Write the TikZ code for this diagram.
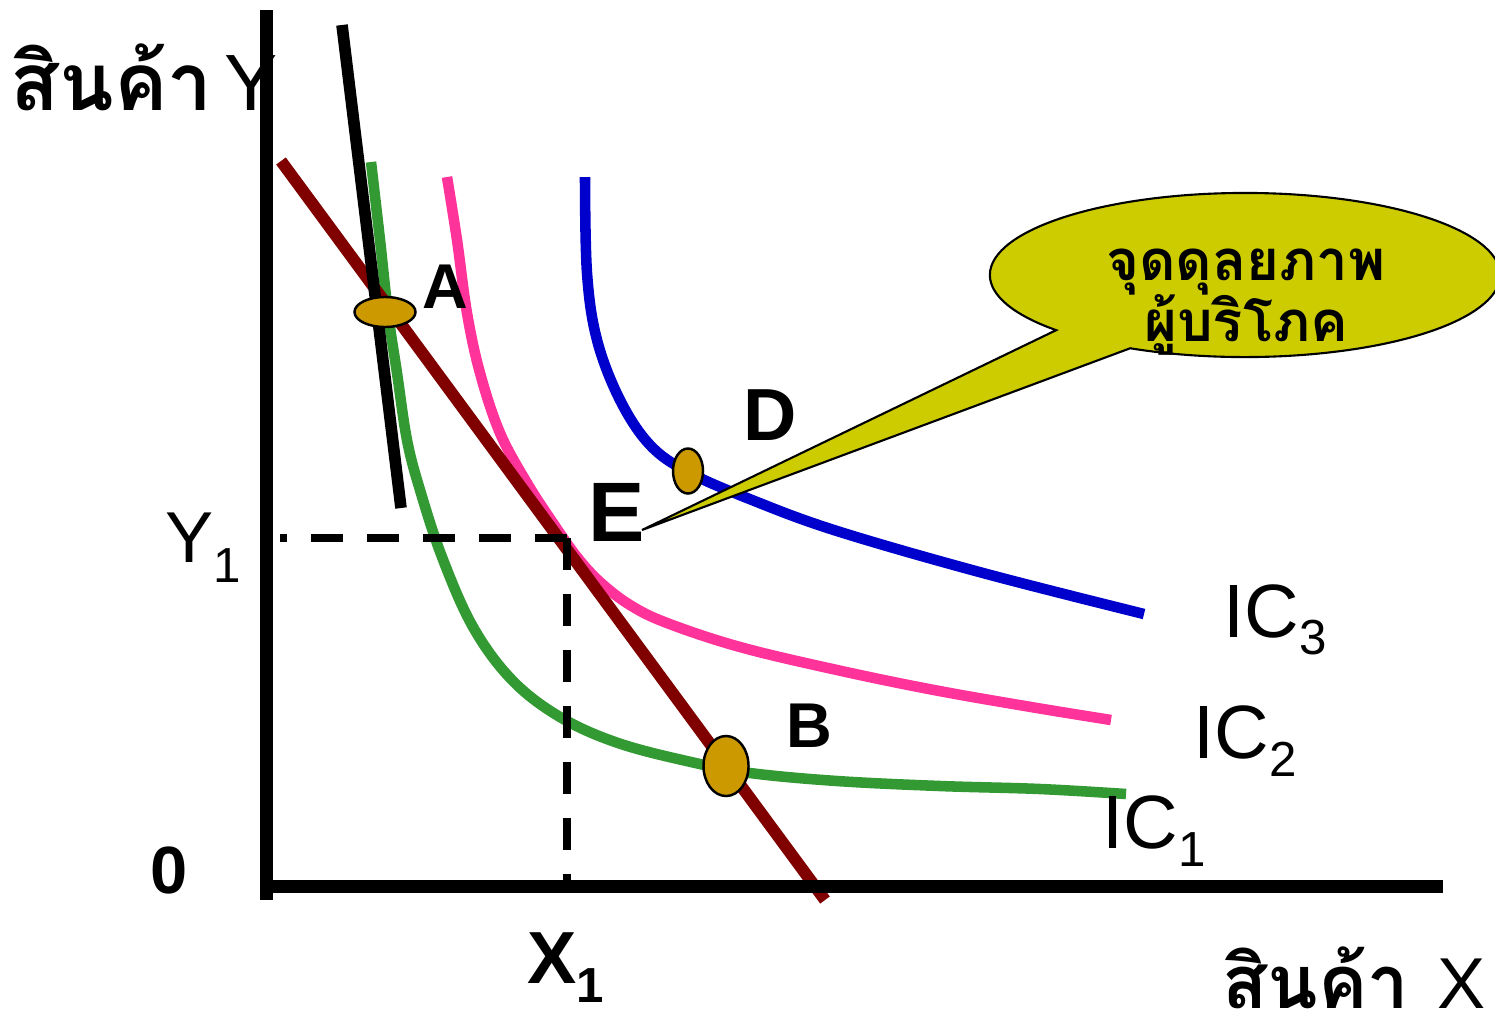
\documentclass[tikz,border=0pt]{standalone}
\usepackage{fontspec}
\setmainfont{Liberation Sans}
\newfontfamily\thaifont[Script=Thai]{Loma}
\usetikzlibrary{%
	shapes.geometric,%
	shapes.callouts,%
}
\definecolor{cgreen}{RGB}{51, 153, 51}
\definecolor{cpink}{RGB}{255, 51, 153}
\definecolor{cblue}{RGB}{0, 0, 204}
\definecolor{cmaroon}{RGB}{128, 0, 0}
\definecolor{cgold}{RGB}{204, 153, 0}
\definecolor{cbubble}{RGB}{204, 204, 0}
\newcommand{\lowsub}[2]{\raisebox{-#1}{\fontsize{14}{14}\selectfont #2}}
\newcommand{\thaibold}[2]{{\thaifont\bfseries\fontsize{#1}{#1}\selectfont #2}}
\tikzset{
	nodes={align=center},%
	axisline/.style={%
			line width=3.7pt},%
	iccurve/.style={%
			line width=3pt},%
	budgetline/.style={%
			cmaroon,%
			line width=3.4pt},%
	steepline/.style={%
			black,%
			line width=3.3pt},%
	guideline/.style={%
			line width=2pt,%
			dash pattern=on 9.1pt off 6.8pt},%
	pointnode/.style={%
			ellipse,%
			draw,%
			line width=0.7pt,%
			fill=cgold,%
			inner sep=0pt},%
	ptlabel/.style={%
			anchor=base west,%
			inner sep=0pt,%
			font={\bfseries\fontsize{18}{18}\selectfont}},%
	axislabel/.style={%
			anchor=base west,%
			inner sep=0pt,%
			font={\fontsize{21.5}{21.5}\selectfont}},%
	bubblenode/.style={%
			ellipse callout,%
			draw,%
			line width=0.6pt,%
			fill=cbubble,%
			callout pointer arc=21,%
			minimum width=5.1cm,%
			minimum height=1.64cm,%
			inner sep=0pt},%
	bubbletext/.style={%
			anchor=base,%
			inner sep=0pt,%
			font={\thaifont\bfseries\fontsize{16}{16}\selectfont}},%
}

\begin{document}
\begin{tikzpicture}[x=0.01cm, y=-0.01cm]
	\useasboundingbox (0,0) rectangle (1495,1021);

	\node[axislabel, font={\fontsize{22.7}{22.7}\selectfont}] (goodsy) at (10,110) {\thaibold{22.7}{สินค้า}\hspace{0.15em}Y};
	\node[axislabel, font={\fontsize{20.5}{20.5}\selectfont}] (goodsx) at (1222,1008) {\thaibold{21}{สินค้า}\hspace{8pt}X};

	\draw[iccurve, cgreen] plot[smooth, tension=0.6] coordinates {(371,162) (380,240) (388,313) (397,373) (407,440) (420,490) (442,557) (473,627) (512,680) (560,717) (618,743) (691,762) (750,773) (837,781) (940,786) (1040,789) (1126,794)};
	\draw[iccurve, cpink] plot[smooth, tension=0.6] coordinates {(447,177) (457,240) (467,313) (480,373) (500,433) (527,483) (553,523) (577,557) (600,582) (630,605) (667,623) (740,647) (837,670) (934,690) (1031,707) (1111,720)};
	\draw[iccurve, cblue] plot[smooth, tension=0.6] coordinates {(585,177) (587,273) (597,340) (620,400) (650,445) (688,472) (752,500) (837,531) (983,573) (1144,614)};

	\draw[budgetline] (281,161) -- (825,900);
	\draw[steepline] (342,25) -- (401,508);

	\coordinate (eq) at (567,538);
	\draw[guideline] (eq) -- (280,538);
	\draw[guideline] (eq) -- (567,880);

	\draw[axisline] (266,10) -- (266,900);
	\draw[axisline] (260,886) -- (1443,886);

	\node[pointnode, minimum width=0.61cm, minimum height=0.30cm] (pta) at (385,312) {};
	\node[pointnode, minimum width=0.30cm, minimum height=0.45cm] (ptd) at (688,471) {};
	\node[pointnode, minimum width=0.45cm, minimum height=0.60cm] (ptb) at (726,766) {};

	\node[ptlabel] (lbla) at (422,308) {A};
	\node[ptlabel, font={\bfseries\fontsize{21}{21}\selectfont}] (lbld) at (743,440) {D};
	\node[ptlabel, font={\bfseries\fontsize{24}{24}\selectfont}] (lble) at (588,541) {E};
	\node[ptlabel] (lblb) at (786,747) {B};
	\node[ptlabel, font={\bfseries\fontsize{19}{19}\selectfont}] (zero) at (150,893) {0};

	\node[axislabel, font={\fontsize{20.5}{20.5}\selectfont}] (ylev) at (165,562) {Y\lowsub{5.7pt}{1}};
	\node[ptlabel, font={\bfseries\fontsize{21}{21}\selectfont}] (xlev) at (527,983) {X{\bfseries\lowsub{5.4pt}{1}}};

	\node[axislabel] (ic3) at (1223,637) {IC\lowsub{5pt}{3}};
	\node[axislabel] (ic2) at (1193,758) {IC\lowsub{5.3pt}{2}};
	\node[axislabel] (ic1) at (1102,848) {IC\lowsub{5.3pt}{1}};

	\coordinate (etip) at (642,530);
	\node[bubblenode, callout absolute pointer={(etip)}] (bubble) at (1245,275) {};
	\node[bubbletext] (bubbleline1) at (1246,280) {จุดดุลยภาพ};
	\node[bubbletext] (bubbleline2) at (1246,341) {ผู้บริโภค};
\end{tikzpicture}
\end{document}
